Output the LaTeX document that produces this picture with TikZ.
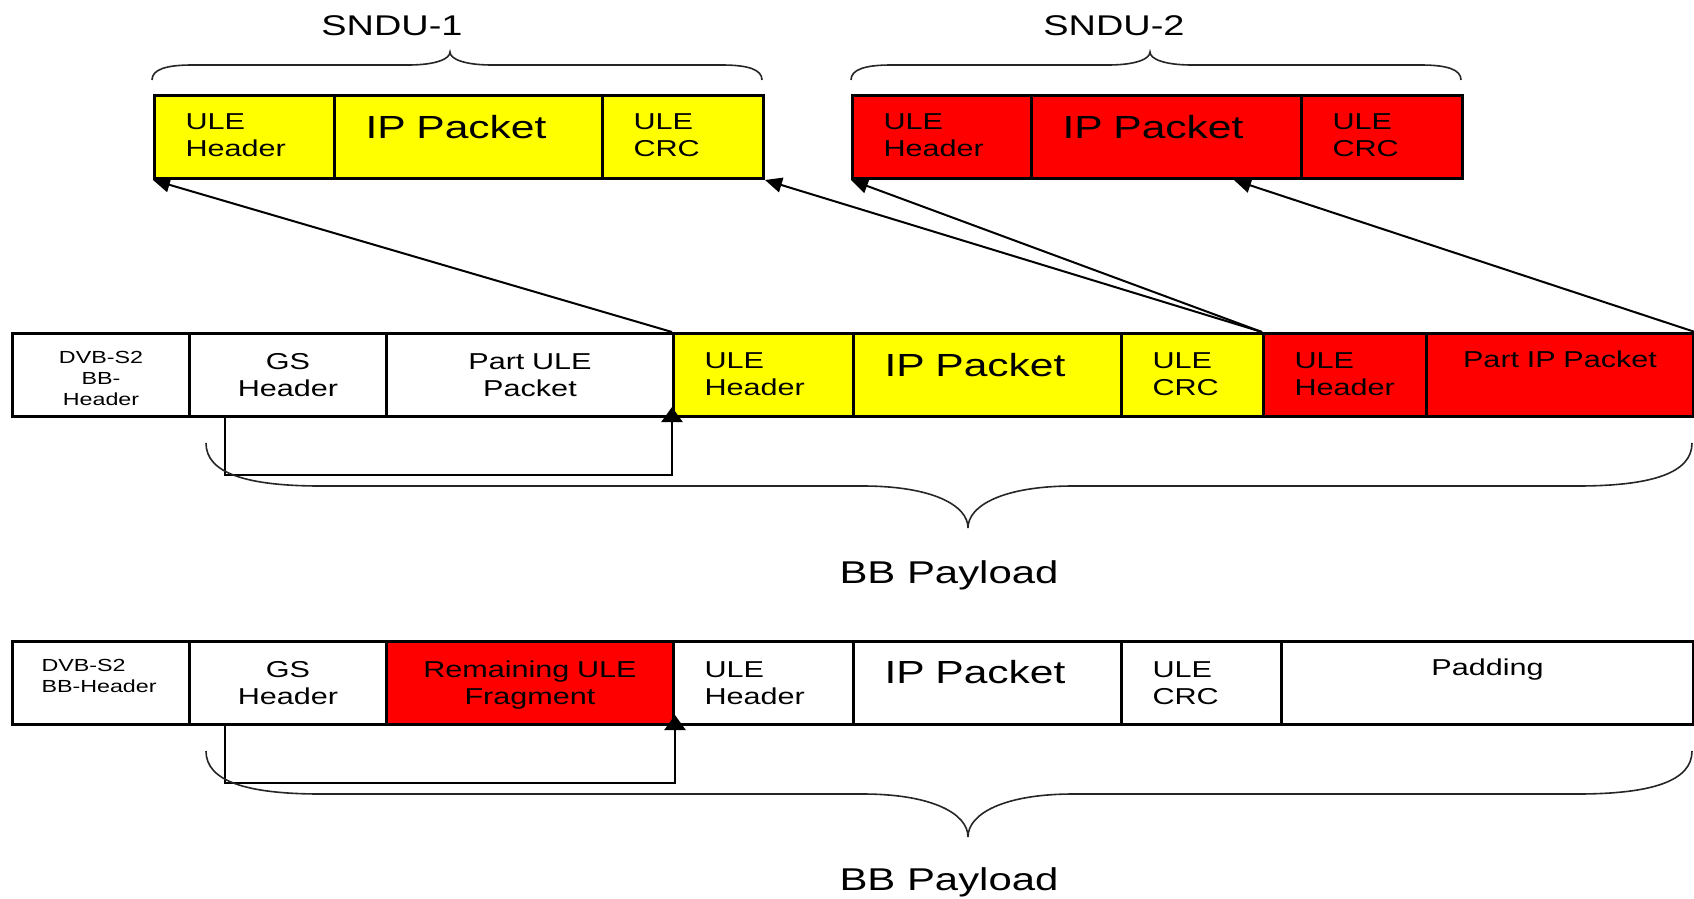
\documentclass[tikz,border=0pt]{standalone}
\usepackage{fontspec}
\setmainfont[FakeStretch=1.33]{Liberation Sans}
\usetikzlibrary{arrows.meta,calc}

% curly brace: left x, right x, tip x, end y, flat y, tip y, end run, middle run
\newcommand{\curlybrace}[8]{%
  \draw[brace] (#1,#4) .. controls (#1,{#4+0.7*(#5-#4)}) and ({#1+0.35*#7},#5) .. ({#1+#7},#5)
    -- ({#3-#8},#5) .. controls ({#3-0.35*#8},#5) and (#3,{#5+0.45*(#6-#5)}) .. (#3,#6)
    .. controls (#3,{#5+0.45*(#6-#5)}) and ({#3+0.35*#8},#5) .. ({#3+#8},#5)
    -- ({#2-#7},#5) .. controls ({#2-0.35*#7},#5) and (#2,{#4+0.7*(#5-#4)}) .. (#2,#4);}

\definecolor{ulered}{RGB}{255,0,0}
\definecolor{uleyellow}{RGB}{255,255,0}

\begin{document}
\begin{tikzpicture}[x=1pt,y=-1pt,
  cellbase/.style={draw=black, line width=3pt, anchor=north west, inner ysep=0pt,
    font=\fontsize{23}{27}\selectfont},
  lc/.style={cellbase, align=left, inner xsep=31pt, text width=#1},
  cc/.style={cellbase, align=center, inner xsep=0pt, text width=#1},
  bl/.style 2 args={text height=#1, text depth=#2},
  big/.style={font=\fontsize{32}{36}\selectfont},
  small/.style={font=\fontsize{17.5}{21}\selectfont},
  ylw/.style={fill=uleyellow},
  rd/.style={fill=ulered},
  ptr/.style={line width=2pt, -{Triangle[length=17pt,width=15pt]}},
  hook/.style={line width=2.5pt, -{Triangle[length=15pt,width=21pt]}, shorten >=-11pt},
  brace/.style={line width=1.6pt, black!85},
  title/.style={anchor=base, font=\fontsize{28.5}{32}\selectfont},
  payload/.style={anchor=base, font=\fontsize{31.5}{36}\selectfont}]

\useasboundingbox (0,0) rectangle (1694,898);

% SNDU-1
\node[lc=118pt, ylw, bl={34pt}{49pt}] (s1h) at (153,94) {ULE\\Header};
\node[lc=206pt, ylw, big, bl={43pt}{40pt}] (s1ip) at (333,94) {IP Packet};
\node[lc=99pt, ylw, bl={34pt}{49pt}] (s1c) at (601,94) {ULE\\CRC};

% SNDU-2
\node[lc=117pt, rd, bl={34pt}{49pt}] (s2h) at (851,94) {ULE\\Header};
\node[lc=208pt, rd, big, bl={43pt}{40pt}] (s2ip) at (1030,94) {IP Packet};
\node[lc=99pt, rd, bl={34pt}{49pt}] (s2c) at (1300,94) {ULE\\CRC};

% first baseband frame
\node[cc=177pt, small, bl={30pt}{53pt}] (r2bb) at (11,332) {DVB-S2\\BB-\\Header};
\node[cc=197pt, bl={36pt}{47pt}] (r2gs) at (188,332) {GS\\Header};
\node[cc=287pt, bl={36pt}{47pt}] (r2pu) at (385,332) {Part ULE\\Packet};
\node[lc=118pt, ylw, bl={35pt}{48pt}] (r2yh) at (672,332) {ULE\\Header};
\node[lc=206pt, ylw, big, bl={43pt}{40pt}] (r2ip) at (852,332) {IP Packet};
\node[lc=80pt, ylw, bl={35pt}{48pt}] (r2yc) at (1120,332) {ULE\\CRC};
\node[lc=101pt, rd, bl={35pt}{48pt}] (r2rh) at (1262,332) {ULE\\Header};
\node[cc=267pt, rd, bl={33.5pt}{49.5pt}] (r2pip) at (1425,332) {Part IP Packet};

% second baseband frame
\node[lc=119pt, inner xsep=29pt, small, bl={30pt}{53pt}] (r3bb) at (11,640) {DVB-S2\\BB-Header};
\node[cc=197pt, bl={35.5pt}{47.5pt}] (r3gs) at (188,640) {GS\\Header};
\node[cc=287pt, rd, bl={35.5pt}{47.5pt}] (r3rem) at (385,640) {Remaining ULE\\Fragment};
\node[lc=118pt, bl={35.5pt}{47.5pt}] (r3uh) at (672,640) {ULE\\Header};
\node[lc=206pt, big, bl={42pt}{41pt}] (r3ip) at (852,640) {IP Packet};
\node[lc=98pt, bl={35.5pt}{47.5pt}] (r3uc) at (1120,640) {ULE\\CRC};
\node[cc=412pt, bl={33.7pt}{49.3pt}] (r3pad) at (1280,640) {Padding};

% SNDU origins
\draw[ptr] (r2yh.north west) -- (s1h.south west);
\draw[ptr] (r2rh.north west) -- (s1c.south east);
\draw[ptr] (r2rh.north west) -- (s2h.south west);
\draw[ptr] (r2pip.north east) -- ([xshift=-69pt]s2ip.south east);

% GS header pointers
\draw[hook] ([xshift=37pt]r2gs.south west) -- ++(0,57) -| (r2yh.south west);
\draw[hook] ([xshift=37pt]r3gs.south west) -- ++(0,57) -| (r3rem.south east);

% braces
\curlybrace{152}{762}{450}{80}{65}{52}{40}{42}
\curlybrace{851}{1461}{1150}{80}{65}{52}{40}{42}
\curlybrace{206}{1692}{968}{443}{486}{528}{115}{105}
\curlybrace{206}{1692}{968}{751}{794}{837}{115}{105}

% labels
\node[title] (sndu1) at (392,35) {SNDU-1};
\node[title] (sndu2) at (1114,35) {SNDU-2};
\node[payload] (pay1) at (949,583) {BB Payload};
\node[payload] (pay2) at (949,890) {BB Payload};
\end{tikzpicture}
\end{document}
